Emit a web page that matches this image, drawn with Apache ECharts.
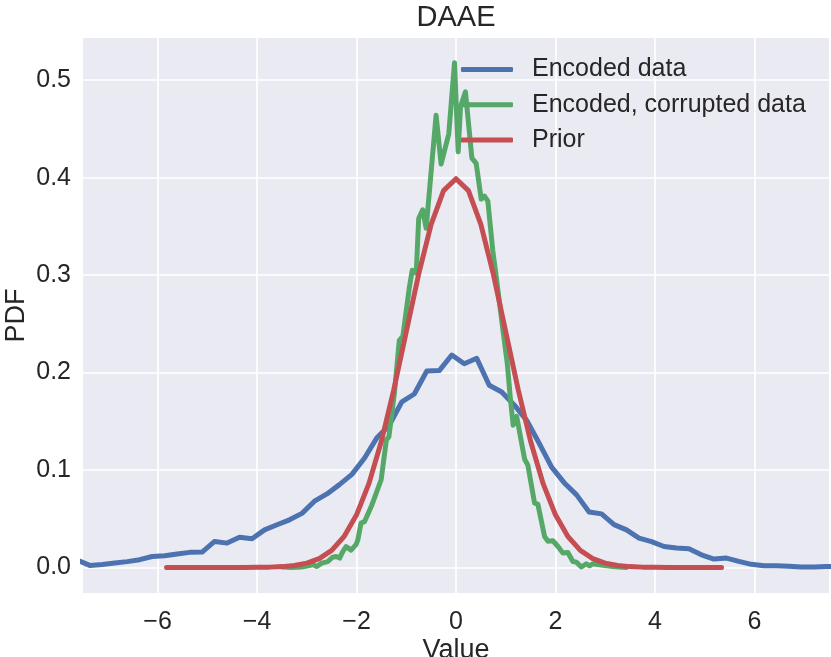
<!DOCTYPE html>
<html>
<head>
<meta charset="utf-8">
<script src="https://cdn.jsdelivr.net/npm/echarts@6/dist/echarts.min.js"></script>
<style>html,body{margin:0;padding:0;background:#fff;}#c{width:831px;height:657px;}</style>
</head>
<body>
<div id="c"></div>
<script>
// ---- data ----
const xTicks = [-6, -4, -2, 0, 2, 4, 6];
const yTicks = [0.0, 0.1, 0.2, 0.3, 0.4, 0.5];

const blueX = [-7.615,-7.364,-7.113,-6.862,-6.611,-6.36,-6.109,-5.858,-5.607,-5.356,-5.105,-4.854,-4.603,-4.352,-4.101,-3.85,-3.599,-3.348,-3.097,-2.846,-2.595,-2.344,-2.093,-1.842,-1.591,-1.34,-1.089,-0.838,-0.587,-0.336,-0.085,0.166,0.417,0.668,0.919,1.17,1.421,1.672,1.923,2.174,2.425,2.676,2.927,3.178,3.429,3.68,3.931,4.182,4.433,4.684,4.935,5.186,5.437,5.688,5.939,6.19,6.441,6.692,6.943,7.194,7.445,7.696];
const blueY = [0.0075,0.0021,0.0030,0.0045,0.0060,0.0080,0.0113,0.0120,0.0138,0.0155,0.0158,0.0267,0.0250,0.0310,0.0294,0.0386,0.0438,0.0489,0.0555,0.0680,0.0755,0.0850,0.0955,0.1120,0.1330,0.1460,0.1700,0.1780,0.2016,0.2020,0.2180,0.2090,0.2146,0.1870,0.1800,0.1668,0.1510,0.1275,0.1030,0.0870,0.0745,0.0570,0.0550,0.0440,0.0386,0.0301,0.0265,0.0215,0.0199,0.0192,0.0130,0.0086,0.0096,0.0062,0.0032,0.0017,0.0017,0.0012,0.0005,0.0005,0.0010,0.0012];

const greenX = [-3.50,-3.30,-3.11,-2.95,-2.88,-2.80,-2.70,-2.58,-2.48,-2.41,-2.34,-2.28,-2.21,-2.11,-2.01,-1.975,-1.91,-1.84,-1.70,-1.505,-1.40,-1.35,-1.24,-1.14,-1.07,-0.936,-0.88,-0.80,-0.75,-0.67,-0.60,-0.40,-0.30,-0.145,-0.03,0.044,0.09,0.19,0.32,0.406,0.507,0.573,0.64,0.74,0.81,0.94,1.03,1.09,1.15,1.22,1.38,1.445,1.58,1.646,1.78,1.846,1.948,2.05,2.15,2.25,2.35,2.42,2.52,2.62,2.686,2.75,2.92,3.155,3.42];
const greenY = [0.0005,0.0,0.0005,0.002,0.003,0.001,0.0045,0.006,0.0105,0.0113,0.0096,0.016,0.0215,0.0178,0.0235,0.028,0.0455,0.047,0.063,0.090,0.131,0.134,0.178,0.233,0.237,0.288,0.305,0.302,0.358,0.367,0.348,0.464,0.414,0.445,0.518,0.4265,0.4726,0.488,0.42,0.4146,0.378,0.381,0.376,0.325,0.298,0.245,0.21,0.175,0.146,0.155,0.111,0.105,0.066,0.065,0.032,0.027,0.0274,0.0215,0.0148,0.0154,0.0062,0.0055,0.0005,0.0038,0.0017,0.0038,0.0025,0.001,0.0];

const redX = [-5.82,-5.5,-5.0,-4.5,-4.25,-4.0,-3.75,-3.5,-3.25,-3.0,-2.75,-2.5,-2.25,-2.0,-1.75,-1.5,-1.25,-1.0,-0.75,-0.5,-0.25,0.0,0.25,0.5,0.75,1.0,1.25,1.5,1.75,2.0,2.25,2.5,2.75,3.0,3.25,3.5,3.75,4.0,4.25,4.5,5.0,5.34];
const redY = [0.0,0.0,0.0,0.0,0.00005,0.00013,0.00035,0.00087,0.00203,0.00443,0.00909,0.01753,0.03174,0.05399,0.08628,0.12952,0.18265,0.24197,0.30114,0.35207,0.38667,0.39894,0.38667,0.35207,0.30114,0.24197,0.18265,0.12952,0.08628,0.05399,0.03174,0.01753,0.00909,0.00443,0.00203,0.00087,0.00035,0.00013,0.00005,0.0,0.0,0.0];

const seriesNames = ['Encoded data', 'Encoded, corrupted data', 'Prior'];
const colors = ['#4C72B0', '#55A868', '#C44E52'];

// ---- chart ----
const pair = (xs, ys) => xs.map((x, i) => [x, ys[i]]);
const FONT = 'Liberation Sans, Arial, sans-serif';
const TXT = '#262626';

const chart = echarts.init(document.getElementById('c'), null, {renderer: 'canvas'});
const lineSeries = (name, data, color) => ({
  name, type: 'line', data, showSymbol: false, symbol: 'none', smooth: false,
  clip: true, animation: false,
  lineStyle: {color, width: 5, cap: 'round', join: 'round'},
  itemStyle: {color}
});

chart.setOption({
  animation: false,
  title: {
    text: 'DAAE', left: 456, top: 3, textAlign: 'center', padding: 0,
    textStyle: {fontFamily: FONT, fontSize: 29, fontWeight: 'normal', color: TXT}
  },
  legend: {
    orient: 'vertical', left: 461, top: 57, padding: 0, itemGap: 10.3,
    itemWidth: 52, itemHeight: 5, icon: 'roundRect',
    data: seriesNames.map((n, i) => ({name: n, itemStyle: {color: colors[i]}})),
    textStyle: {fontFamily: FONT, fontSize: 25, color: TXT, lineHeight: 25, padding: [0, 0, 0, 14]}
  },
  grid: {left: 83, right: 2, top: 38, bottom: 64, show: true, backgroundColor: '#EAEAF2', borderWidth: 0,
         containLabel: false, outerBoundsMode: 'none'},
  xAxis: {
    type: 'value', min: -7.5, max: 7.5, splitNumber: 7,
    name: 'Value', nameLocation: 'middle', nameGap: 44, nameMoveOverlap: false,
    nameTextStyle: {fontFamily: FONT, fontSize: 27, color: TXT},
    axisLine: {show: false}, axisTick: {show: false},
    axisLabel: {
      showMinLabel: false, showMaxLabel: false, margin: 17,
      fontFamily: FONT, fontSize: 25, color: TXT,
      formatter: v => xTicks.includes(Math.round(v)) && Math.abs(v - Math.round(v)) < 1e-6 ? String(Math.round(v)).replace('-', '\u2212') : ''
    },
    splitLine: {show: true, showMinLine: false, showMaxLine: false, lineStyle: {color: '#ffffff', width: 1.7}}
  },
  yAxis: {
    type: 'value', min: -0.0262, max: 0.5433, splitNumber: 5,
    name: 'PDF', nameLocation: 'middle', nameGap: 53, nameMoveOverlap: false,
    nameTextStyle: {fontFamily: FONT, fontSize: 27, color: TXT},
    axisLine: {show: false}, axisTick: {show: false},
    axisLabel: {
      showMinLabel: false, showMaxLabel: false, margin: 12,
      fontFamily: FONT, fontSize: 25, color: TXT,
      formatter: v => {
        const t = yTicks.find(t => Math.abs(t - v) < 1e-6);
        return t === undefined ? '' : t.toFixed(1);
      }
    },
    splitLine: {show: true, showMinLine: false, showMaxLine: false, lineStyle: {color: '#ffffff', width: 1.7}}
  },
  series: [
    lineSeries(seriesNames[0], pair(blueX, blueY), colors[0]),
    lineSeries(seriesNames[1], pair(greenX, greenY), colors[1]),
    lineSeries(seriesNames[2], pair(redX, redY), colors[2])
  ]
});
</script>
</body>
</html>
